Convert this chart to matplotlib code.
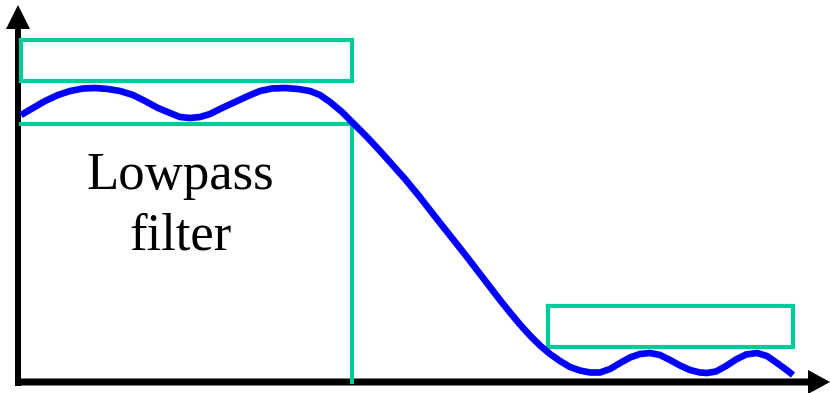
import matplotlib
matplotlib.use("Agg")
import matplotlib.pyplot as plt

# frequency response (f, gain), origin at the axes corner
freq = [3, 15, 27, 40, 52, 65, 77, 90, 102, 115, 127, 140, 152, 162, 172,
        182, 192, 204, 217, 230, 242, 254, 267, 280, 292, 302, 312, 324, 335,
        349, 362, 375, 387, 401, 415, 432, 449, 462, 472, 482, 492, 502, 512,
        522, 532, 542, 552, 562, 572, 582, 592, 602, 612, 622, 632, 642, 652,
        662, 672, 682, 689, 698, 708, 718, 728, 739, 749, 759, 768, 775]
gain = [267, 274, 281, 287, 291, 293.5, 294, 293, 291, 287, 281, 274, 269, 265, 264,
        265, 268, 274, 280, 286, 291, 293.5, 294, 293, 291, 287, 280, 270, 259,
        245, 231, 216.5, 203, 186, 168, 146.5, 125, 108, 95, 82, 69.5, 57.5, 46.5,
        36.5, 28, 21, 15, 11.5, 9.5, 9.5, 13, 19, 24.5, 28, 29, 27, 22,
        16.5, 12, 9.5, 9, 10.5, 16, 22.5, 27.5, 29, 26, 19, 12.5, 7]

# tolerance scheme
pass_top = (3, 334, 301, 342)       # f0, f1, g0, g1
pass_min = 258
pass_edge = 334
stop_box = (530, 775, 35, 76)

label = "Lowpass\nfilter"

green = "#00cc99"

fig = plt.figure(figsize=(8.3, 3.93), dpi=100)
ax = fig.add_axes([0, 0, 1, 1])
ax.set_xlim(-18, 812)
ax.set_ylim(-11, 382)
ax.axis("off")

f0, f1, g0, g1 = pass_top
ax.plot([f0, f1, f1, f0, f0], [g1, g1, g0, g0, g1], color=green, lw=3, solid_joinstyle="miter")
ax.plot([f0, pass_edge, pass_edge], [pass_min, pass_min, 0], color=green, lw=3, solid_joinstyle="miter")
s0, s1, h0, h1 = stop_box
ax.plot([s0, s1, s1, s0, s0], [h1, h1, h0, h0, h1], color=green, lw=3, solid_joinstyle="miter")

ax.plot(freq, gain, color="#0000ff", lw=4.8, solid_capstyle="butt", solid_joinstyle="round")

# axes arrows
ax.arrow(0, -4, 0, 381, width=6, head_width=24, head_length=24,
         length_includes_head=True, color="k", lw=0)
ax.arrow(-3, 0, 815, 0, width=7, head_width=24, head_length=22,
         length_includes_head=True, color="k", lw=0)

ax.text(162, 230, label, ha="center", va="top", fontsize=38,
        family="Liberation Serif", linespacing=1.33)

fig.savefig("out.png", dpi=100)
